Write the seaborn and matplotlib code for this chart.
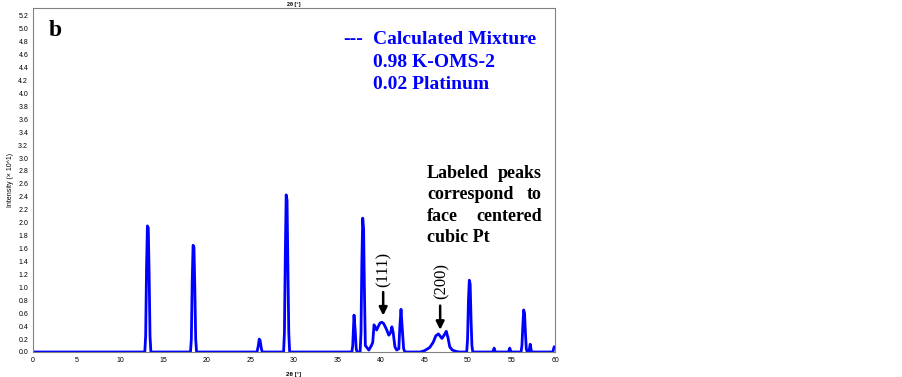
import matplotlib
matplotlib.use("Agg")
import matplotlib.pyplot as plt
import seaborn as sns
import pandas as pd

# 计算的混合物XRD图 (点从图上读出)
two_theta = [0, 12.85, 12.95, 13.05, 13.15, 13.25, 13.35, 13.45, 13.55,
             18.1, 18.2, 18.3, 18.4, 18.5, 18.6, 18.7, 18.8,
             25.75, 25.9, 26.0, 26.1, 26.25, 26.35,
             28.8, 28.9, 29.0, 29.1, 29.2, 29.3, 29.4, 29.5,
             36.65, 36.75, 36.9, 37.05, 37.15, 37.25,
             37.6, 37.7, 37.8, 37.9, 38.0, 38.1, 38.2,
             38.6, 38.9, 39.05, 39.2, 39.35, 39.5, 39.7, 39.9, 40.1, 40.3, 40.6, 40.9, 41.1, 41.25, 41.4, 41.6, 41.8,
             42.05, 42.15, 42.3, 42.45, 42.6, 42.75,
             44.5, 45.0, 45.6, 46.0, 46.3, 46.6, 47.0, 47.3, 47.5, 47.7, 47.9, 48.2, 48.6, 49.0,
             49.85, 49.95, 50.05, 50.15, 50.25, 50.35, 50.45, 50.55,
             52.85, 53.0, 53.15,
             54.65, 54.8, 54.95,
             56.1, 56.2, 56.3, 56.4, 56.5, 56.6, 56.7, 56.8,
             57.0, 57.15, 57.3,
             59.75, 59.9, 60.0]
intensity = [0, 0, 0.25, 1.3, 1.95, 1.92, 1.2, 0.25, 0,
             0, 0.2, 1.1, 1.65, 1.62, 1.0, 0.2, 0,
             0, 0.1, 0.2, 0.18, 0.05, 0,
             0, 0.3, 1.5, 2.43, 2.35, 1.3, 0.3, 0,
             0, 0.1, 0.57, 0.3, 0.05, 0,
             0, 0.3, 1.4, 2.07, 1.9, 0.9, 0.1,
             0.03, 0.1, 0.15, 0.42, 0.38, 0.34, 0.4, 0.45, 0.46, 0.44, 0.36, 0.26, 0.3, 0.39, 0.3, 0.08, 0.03,
             0.05, 0.35, 0.66, 0.35, 0.05, 0,
             0, 0.02, 0.07, 0.15, 0.25, 0.28, 0.21, 0.27, 0.32, 0.22, 0.08, 0.03, 0.01, 0,
             0, 0.2, 0.8, 1.11, 1.05, 0.5, 0.1, 0,
             0, 0.06, 0,
             0, 0.06, 0,
             0, 0.1, 0.4, 0.65, 0.6, 0.3, 0.05, 0,
             0, 0.12, 0,
             0, 0.08, 0.08]

df = pd.DataFrame({"2theta": two_theta, "I": intensity})

y_ticks = [round(0.2 * i, 1) for i in range(27)]
x_ticks = list(range(0, 61, 5))

legend_lines = ["Calculated Mixture", "0.98 K-OMS-2", "0.02 Platinum"]
note_left = ["Labeled", "correspond", "face", "cubic Pt"]
note_right = ["peaks", "to", "centered", ""]

sns.set_style("white")
plt.rcParams["font.family"] = ["Liberation Sans", "DejaVu Sans"]
plt.rcParams["text.color"] = "black"
plt.rcParams["axes.labelcolor"] = "black"

fig = plt.figure(figsize=(9.03, 3.77), dpi=100)
ax = fig.add_axes([33 / 903, 1 - 352 / 377, 522 / 903, 344 / 377])

sns.lineplot(data=df, x="2theta", y="I", ax=ax, color="#0000ff", lw=2.0,
             sort=False, estimator=None)

ax.set_xlim(0, 60)
ax.set_ylim(0, 5.32)
ax.set_xticks(x_ticks)
ax.set_yticks(y_ticks)
ax.set_xticklabels([str(v) for v in x_ticks], fontsize=5)
ax.set_yticklabels([f"{v:.1f}" for v in y_ticks], fontsize=5)
ax.tick_params(direction="out", length=2, width=0.6, pad=1.5, colors="black")
for s in ax.spines.values():
    s.set_color("#808080")
    s.set_linewidth(0.8)

ax.set_xlabel("2θ [°]", fontsize=4.5, fontweight="bold", labelpad=6)
ax.set_ylabel("Intensity (× 10^1)", fontsize=5, labelpad=3)
ax.set_title("2θ [°]", fontsize=4, fontweight="bold", pad=1.5)

serif = ["Liberation Serif", "DejaVu Serif"]
ax.text(0.03, 0.935, "b", transform=ax.transAxes, fontsize=17, fontweight="bold",
        family=serif, va="center", ha="left", color="black")

# 图例文字
ax.text(0.595, 0.907, "---", transform=ax.transAxes, fontsize=14, fontweight="bold",
        family=serif, color="#0000ff", va="center", ha="left")
for i, t in enumerate(legend_lines):
    ax.text(0.652, 0.907 - i * 0.065, t, transform=ax.transAxes, fontsize=14,
            fontweight="bold", family=serif, color="#0000ff", va="center", ha="left")

# 说明文字 (两端对齐)
for i in range(len(note_left)):
    yy = 0.52 - i * 0.0625
    ax.text(0.755, yy, note_left[i], transform=ax.transAxes, fontsize=13,
            fontweight="bold", family=serif, va="center", ha="left", color="black")
    if note_right[i]:
        ax.text(0.975, yy, note_right[i], transform=ax.transAxes, fontsize=13,
                fontweight="bold", family=serif, va="center", ha="right", color="black")

# 峰标注
ax.annotate("", xy=(40.25, 0.52), xytext=(40.25, 0.97),
            arrowprops=dict(arrowstyle="-|>", color="black", lw=1.8, mutation_scale=12))
ax.text(40.25, 1.27, "(111)", rotation=90, fontsize=12, family=serif,
        ha="center", va="center", color="black")
ax.annotate("", xy=(46.8, 0.30), xytext=(46.8, 0.76),
            arrowprops=dict(arrowstyle="-|>", color="black", lw=1.8, mutation_scale=12))
ax.text(46.95, 1.1, "(200)", rotation=90, fontsize=12, family=serif,
        ha="center", va="center", color="black")

fig.savefig("out.png", dpi=100)
